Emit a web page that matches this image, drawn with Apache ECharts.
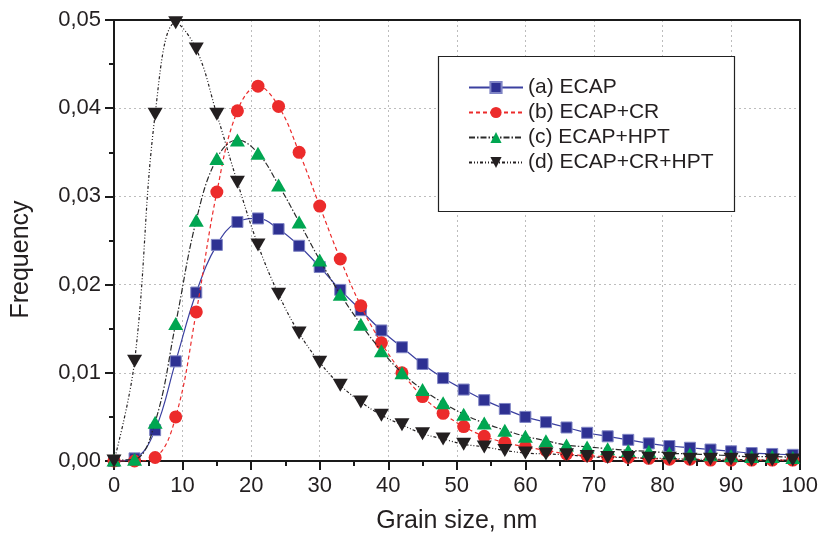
<!DOCTYPE html>
<html>
<head>
<meta charset="utf-8">
<script src="https://cdn.jsdelivr.net/npm/echarts@6/dist/echarts.min.js"></script>
<style>
html,body{margin:0;padding:0;background:#fff;}
#chart{width:821px;height:545px;}
</style>
</head>
<body>
<div id="chart"></div>
<script>
var grainSize = [0,3,6,9,12,15,18,21,24,27,30,33,36,39,42,45,48,51,54,57,60,63,66,69,72,75,78,81,84,87,90,93,96,99];

var ecap = [0,0.0003,0.0035,0.0113,0.0191,0.0245,0.0271,0.0275,0.0263,0.0244,0.0220,0.0194,0.0171,0.0148,0.0129,0.0110,0.0094,0.0081,0.0069,0.0059,0.0050,0.0044,0.0038,0.0032,0.0028,0.0024,0.0020,0.0017,0.0015,0.0013,0.0011,0.0009,0.0008,0.0007];

var ecapCr = [0,0,0.0004,0.0050,0.0169,0.0305,0.0397,0.0425,0.0402,0.0350,0.0289,0.0229,0.0176,0.0134,0.0100,0.0073,0.0054,0.0039,0.0028,0.0021,0.0016,0.0012,0.0008,0.0006,0.0005,0.0004,0.0003,0.0002,0.0002,0.0001,0.0001,0.0001,0.0001,0.0001];

var ecapHpt = [0.0001,0.0002,0.0044,0.0156,0.0273,0.0343,0.0364,0.0349,0.0313,0.0271,0.0228,0.0189,0.0155,0.0125,0.0100,0.0081,0.0066,0.0053,0.0043,0.0035,0.0028,0.0023,0.0018,0.0016,0.0014,0.0012,0.0011,0.0009,0.0008,0.0007,0.0006,0.0005,0.0005,0.0004];

var ecapCrHpt = [0,0.0113,0.0393,0.0497,0.0467,0.0393,0.0316,0.0245,0.0189,0.0145,0.0112,0.0086,0.0067,0.0052,0.0041,0.0031,0.0025,0.0019,0.0016,0.0012,0.0009,0.0008,0.0007,0.0005,0.0004,0.0004,0.0003,0.0003,0.0002,0.0002,0.0002,0.0001,0.0001,0.0001];

var seriesNames = ['(a) ECAP','(b) ECAP+CR','(c) ECAP+HPT','(d) ECAP+CR+HPT'];
var xTicks = [0,10,20,30,40,50,60,70,80,90,100];
var yTicks = [0,0.01,0.02,0.03,0.04,0.05];

function pairs(arr){ return grainSize.map(function(x,i){ return [x, arr[i]]; }); }

var FONT = '"Liberation Sans", Arial, Helvetica, sans-serif';
var AXC = '#1a1a1a';
var chart = echarts.init(document.getElementById('chart'), null, {renderer:'canvas'});

chart.setOption({
  backgroundColor:'#fff',
  animation:false,
  textStyle:{fontFamily:FONT},
  grid:{left:114,right:20,top:20,bottom:84,show:false},
  graphic:[{type:'rect',shape:{x:438.5,y:56.5,width:296,height:155},style:{fill:'#fff',stroke:'#222',lineWidth:1.2},z:5}],
  legend:{
    orient:'vertical',left:463,top:72,z:10,
    itemWidth:54,itemHeight:14,itemGap:4,
    textStyle:{fontSize:21,color:'#231f20',fontFamily:FONT,lineHeight:20},
    data:seriesNames
  },
  xAxis:[{
    type:'value',min:0,max:100,interval:10,
    name:'Grain size, nm',nameLocation:'middle',nameGap:48,
    nameTextStyle:{fontSize:25,color:'#231f20',fontFamily:FONT},
    axisLine:{show:true,onZero:false,lineStyle:{color:AXC,width:2}},
    axisTick:{show:true,length:9,lineStyle:{color:AXC,width:2}},
    minorTick:{show:true,splitNumber:2,length:5,lineStyle:{color:AXC,width:2}},
    axisLabel:{fontSize:22,color:'#231f20',margin:14,fontFamily:FONT,
      formatter:function(v){ return xTicks.indexOf(v)>=0 ? String(v) : ''; }},
    splitLine:{show:true,lineStyle:{color:'#bdbdbd',type:[2,3],width:1}}
  },{
    type:'value',min:0,max:100,interval:10,position:'top',
    axisLine:{show:true,onZero:false,lineStyle:{color:AXC,width:2}},
    axisTick:{show:false},axisLabel:{show:false},splitLine:{show:false}
  }],
  yAxis:[{
    type:'value',min:0,max:0.05,interval:0.01,
    name:'Frequency',nameLocation:'middle',nameGap:80,
    nameTextStyle:{fontSize:25,color:'#231f20',fontFamily:FONT,padding:[0,38,0,0]},
    axisLine:{show:true,onZero:false,lineStyle:{color:AXC,width:2}},
    axisTick:{show:true,length:9,lineStyle:{color:AXC,width:2}},
    minorTick:{show:true,splitNumber:2,length:5,lineStyle:{color:AXC,width:2}},
    axisLabel:{fontSize:22,color:'#231f20',margin:13,fontFamily:FONT,
      formatter:function(v){ return v.toFixed(2).replace('.', ','); }},
    splitLine:{show:true,lineStyle:{color:'#bdbdbd',type:[2,3],width:1}}
  },{
    type:'value',min:0,max:0.05,interval:0.01,position:'right',
    axisLine:{show:true,onZero:false,lineStyle:{color:AXC,width:2}},
    axisTick:{show:false},axisLabel:{show:false},splitLine:{show:false}
  }],
  series:[
    {name:seriesNames[0],type:'line',data:pairs(ecap),smooth:0.4,
     symbol:'rect',symbolSize:11,
     itemStyle:{color:'#2e3192',borderColor:'#7f84c4',borderWidth:1},
     lineStyle:{color:'#3b40a0',width:1.2,type:'solid'},z:2},
    {name:seriesNames[1],type:'line',data:pairs(ecapCr),smooth:0.4,
     symbol:'circle',symbolSize:13,
     itemStyle:{color:'#ec2b2b',borderWidth:0},
     lineStyle:{color:'#ec2b2b',width:1.2,type:[4,3]},z:3},
    {name:seriesNames[2],type:'line',data:pairs(ecapHpt),smooth:0.4,
     symbol:'triangle',symbolSize:[15,13],
     itemStyle:{color:'#00a651',borderWidth:0},
     lineStyle:{color:'#2a2a2a',width:1.2,type:[6,2,1.5,2]},z:4},
    {name:seriesNames[3],type:'line',data:pairs(ecapCrHpt),smooth:0.4,
     symbol:'triangle',symbolRotate:180,symbolSize:[15,13],
     itemStyle:{color:'#231f20',borderWidth:0},
     lineStyle:{color:'#231f20',width:1.2,type:[3,2,1,2,1,2]},z:5}
  ]
});
</script>
</body>
</html>
